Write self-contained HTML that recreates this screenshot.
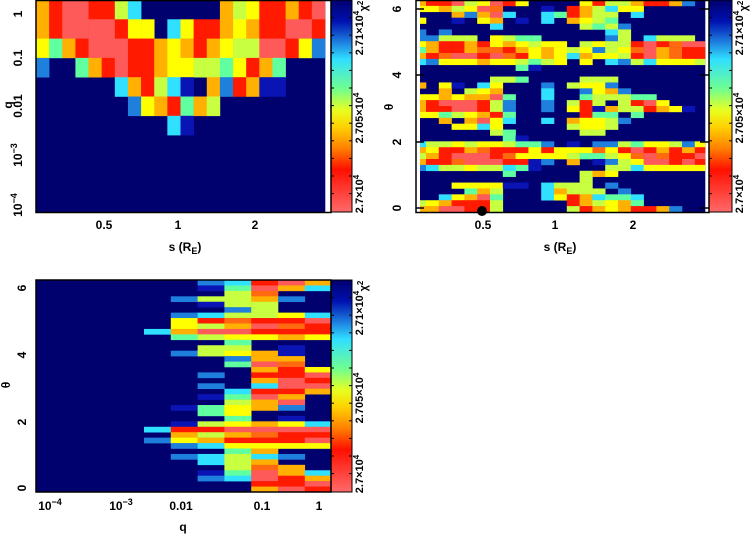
<!DOCTYPE html>
<html><head><meta charset="utf-8"><style>
html,body{margin:0;padding:0;background:#fff;width:754px;height:537px;overflow:hidden}
svg{display:block}
text{font-family:"Liberation Sans",sans-serif;font-weight:bold;font-size:12px;fill:#000}
</style></head><body>
<svg id="s" width="754" height="537" xmlns="http://www.w3.org/2000/svg">
<defs><linearGradient id="cb" x1="0" y1="0" x2="0" y2="1">
<stop offset="0" stop-color="#00006e"/><stop offset="0.1" stop-color="#0010b0"/><stop offset="0.2" stop-color="#1e80e0"/><stop offset="0.28" stop-color="#30e0ff"/><stop offset="0.42" stop-color="#70ff90"/><stop offset="0.52" stop-color="#e8ff20"/><stop offset="0.6" stop-color="#ffd000"/><stop offset="0.7" stop-color="#ff8000"/><stop offset="0.8" stop-color="#ff1000"/><stop offset="1" stop-color="#ff6a6a"/></linearGradient></defs>
<g id="g"></g>
</svg>
<script>
var C={N:"#00006e",D:"#0a14b4",B:"#1e80dc",C:"#30e0ff",g:"#60ffa0",G:"#c8ff40",Y:"#ffff00",O:"#ffb000",o:"#ff6a10",R:"#ff1a00",P:"#ff5a5a"};
var h="";
function R(x,y,w,hh,c){h+='<rect x="'+x.toFixed(2)+'" y="'+y.toFixed(2)+'" width="'+(w+0.3).toFixed(2)+'" height="'+(hh+0.3).toFixed(2)+'" fill="'+c+'"/>';}
function T(x,y,t,a,rot,sz){h+='<text x="'+x+'" y="'+y+'" text-anchor="'+(a||"middle")+'"'+(rot?' transform="rotate(-90 '+x+' '+y+')"':'')+(sz?' style="font-size:'+sz+'px"':'')+'>'+t+'</text>';}
// panel 1
var p1=["ORPPRRGCNNNNNNOGYRRORP","ORPPPPRYYNCYRROYORRPPR","YgORPPPRROYOROYGGPPRYB","BNNgORPRROYYGGgYROgNNN","NNNNNNCORGCDNOBRODDNNN","NNNNNNNBYORgOGNNNNNNNN","NNNNNNNNNNCDNNNNNNNNNN"];
R(36,0,289,212,C.N);
var cw=289/22,rh=19.3;
p1.forEach(function(r,i){for(var j=0;j<22;j++){if(r[j]!="N")R(36+j*cw,i*rh,cw,rh,C[r[j]]);}});
// panel 2
var p2=["ORRPGYPRYNNNNYRGGORROBN","YYOGYPoNNNDNROGCYYNNNNN","NNNOBOPCNNCgROGGNCNNNNN","YNNDNYONDNCNOYGgNNNNNNN","NNNNNNCNNNNNNGgGBNNNNNN","BNBNNNNNNNNNNNNCGNNNNNN","BBGGGNYGggNNNNNBGNCGGGN","YORRORYOYGYYNGYGGRPRoPP","gORROooROYOYGYBGYoPOoRR","ORoPPRPoRYOYCOYYGRPOoRR","CBYYYOYYGgGYNYNCBGCYYYG","NNNNNNNNgDNNNNNNNNNNNNN","NNNNNNNNNNNNNNNNNNNNNNN","NNNNNNGGgNNNNGGGNNNNNNN","ONYDNCYNNNBNGYYBNNNNNNN","NNONGYONNNCNNBYOBNNNNNN","YYOYOOPgNNCNNgGGGggNNNN","ORPPPRGBNNBNGRGNGRPYNNN","ORRPPRGBNNBNYRDOGGROYDN","YYgGYORgNNNNNRggNgNNNNN","NNONOPYCNNCNOYYGBNNNNNN","NNNYYCYNNNNNGYYGNNNNNNN","NNNNNNGgNNNNNGGNNNNNNNN","NNNNNNNgDNNNNNNNNNNNNNN","CGGYGYYGggBNDNBBGgYYGBY","OYRROoRRRYRYYYoYRPROROR","GORPPPRoYYYYGggGYoPoRRP","ORRoPPPRRDBNONDBGYPPRPR","BCGGYGGCgDNNNNNGGCYYYYY","NNNNNNNgNNNNNGOYNNNNNNN","NNNNNNNNNNNNNGNNNNNNNNN","NNNYYYYDDNCGGGNBNNNNNNN","NNNNgOGNNNCOGGGNBNNNNNN","NNCYOPgNNNCYROCggCNNNNN","GYORRRGNNNNNROGYOgNNNNN","OOPPRRGNNNNNGROYORROBNN"];
R(420,0,285,212,C.N);
var x0=421,cw2=12.8,rh2=212/36;
p2.forEach(function(r,i){for(var j=0;j<23;j++){if(r[j]!="N"){var xs=j==0?x0-1:x0+5+(j-1)*cw2;var w=j==0?6:cw2;if(xs+w>705)w=705-xs;R(xs,i*rh2,w,rh2,C[r[j]]);}}});
// panel 3
var p3=["NNBCRPO","NNDgPOC","NNNGoNN","NBGGOBN","NNDGGNN","NNNBGNN","NBCGGYC","NYRoRRP","NYGOPoR","COPPRR R".replace(" ",""),"NgGYYOY","NNNgNNN","NNGGNDN","NBGYODN","NNNBOON","NNNgPoN","NNNNORY","NNBNRRP","NNNNOPR","NNBNCPP","NNNCRRO","NNDgPON","NNNGOPN","NDgYOBN","NNgYNNN","NNNgNDN","NDGYOYC","CRRPPPP","NOGOoRR","BYORRRP","NBCYYYY","NNNgONN","NBCGCBN","NNCGONN","NNNGoON","NNDgPOC","NNBCPRO","NNNNRRP","NNNNOPR"];
R(36,280,295,212,C.N);
var rh3=212/p3.length,cw3=26.8;
p3.forEach(function(r,i){for(var j=0;j<7;j++){var c=r[j];if(c&&c!="N")R(144+j*cw3,280+i*rh3,cw3,rh3,C[c]);}});
// colorbars
[[331,0,21],[709,0,23],[331,280,21]].forEach(function(b){h+='<rect x="'+b[0]+'" y="'+b[1]+'" width="'+b[2]+'" height="212" fill="url(#cb)" stroke="#000" stroke-width="1"/>';
 var lx=b[0]+b[2]+11;
 T(lx,b[1]+33,"2.71×10<tspan dy=\"-4\" style=\"font-size:8px\">4</tspan>","middle",1,11);
 T(lx,b[1]+118,"2.705×10<tspan dy=\"-4\" style=\"font-size:8px\">4</tspan>","middle",1,11);
 T(lx,b[1]+194,"2.7×10<tspan dy=\"-4\" style=\"font-size:8px\">4</tspan>","middle",1,11);
 T(lx+4,b[1]+6,"χ<tspan dy=\"-4\" style=\"font-size:8px\">2</tspan>","middle",1,11);
 for(var k=1;k<12;k++){h+='<line x1="'+b[0]+'" x2="'+(b[0]+3)+'" y1="'+(b[1]+k*17.6)+'" y2="'+(b[1]+k*17.6)+'" stroke="#000"/><line x1="'+(b[0]+b[2]-3)+'" x2="'+(b[0]+b[2])+'" y1="'+(b[1]+k*17.6)+'" y2="'+(b[1]+k*17.6)+'" stroke="#000"/>';}
});
// frames
h+='<rect x="36" y="0.5" width="295" height="212" fill="none" stroke="#000" stroke-width="1.5"/>';
h+='<rect x="416" y="0.5" width="293" height="212" fill="none" stroke="#000" stroke-width="1.5"/>';
h+='<rect x="36" y="280" width="295" height="212" fill="none" stroke="#000" stroke-width="1.5"/>';
// panel 2 theta ticks
[9,75,142,208].forEach(function(y){h+='<line x1="416" x2="424" y1="'+y+'" y2="'+y+'" stroke="#000" stroke-width="1.5"/><line x1="700" x2="709" y1="'+y+'" y2="'+y+'" stroke="#000" stroke-width="1.5"/>';});
// panel 1 labels
T(22,14,"1","middle",1);T(22,58,"0.1","middle",1);T(22,106,"0.01","middle",1);
T(22,155,"10<tspan dy=\"-5\" style=\"font-size:9px\">−3</tspan>","middle",1);T(22,205,"10<tspan dy=\"-5\" style=\"font-size:9px\">−4</tspan>","middle",1);
T(104,229,"0.5");T(178,229,"1");T(255,229,"2");
T(185,251,"s (R<tspan dy=\"3\" style=\"font-size:9px\">E</tspan><tspan dy=\"-3\">)</tspan>");
T(12,105,"q","middle",1);
// panel 2 labels
T(401,9,"6","middle",1);T(401,75,"4","middle",1);T(401,142,"2","middle",1);T(401,208,"0","middle",1);
T(483,229,"0.5");T(555,229,"1");T(633,229,"2");
T(560,251,"s (R<tspan dy=\"3\" style=\"font-size:9px\">E</tspan><tspan dy=\"-3\">)</tspan>");
T(393,107,"θ","middle",1);
h+='<circle cx="482" cy="211" r="5" fill="#000"/>';
// panel 3 labels
T(26,288,"6","middle",1);T(26,355,"4","middle",1);T(26,422,"2","middle",1);T(26,488,"0","middle",1);
T(50,510,"10<tspan dy=\"-5\" style=\"font-size:9px\">−4</tspan>");T(121,510,"10<tspan dy=\"-5\" style=\"font-size:9px\">−3</tspan>");
T(181,510,"0.01");T(262,510,"0.1");T(319,510,"1");
T(183,531,"q");T(10,385,"θ","middle",1);
document.getElementById("g").innerHTML=h;
</script>
</body></html>
